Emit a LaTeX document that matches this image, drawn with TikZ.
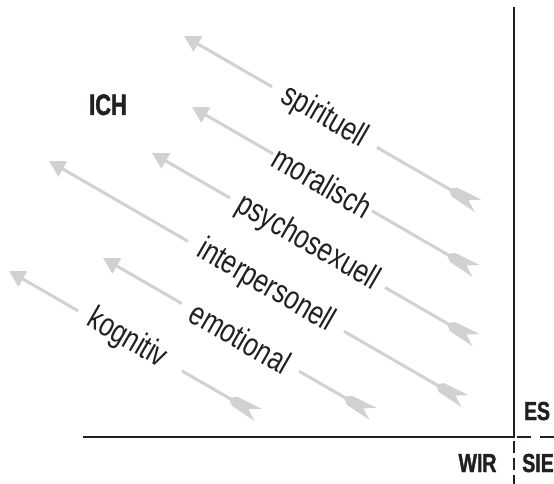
\documentclass[tikz,border=0pt]{standalone}
\usepackage{fontspec}
\setmainfont{Liberation Sans}
\newfontfamily\labfont{Liberation Sans}[FakeStretch=0.77]
\newfontfamily\capfont{Liberation Sans}[FakeStretch=0.75, FakeBold=1.5]
\newfontfamily\ichfont{Liberation Sans}[FakeStretch=0.74, FakeBold=1.5]
\usetikzlibrary{arrows.meta,calc}
\definecolor{argrey}{RGB}{208,209,211}
\definecolor{axblack}{RGB}{35,31,32}
\tikzset{
  arline/.style={draw=argrey, line width=3pt},
  headline/.style={arline, -{Triangle[length=16pt,width=17pt]}},
  tailline/.style={arline, shorten >=26pt},
  lab/.style={font=\labfont\fontsize{33}{35}\selectfont, text=axblack, inner sep=0pt, rotate=-30},
  capl/.style={font=\capfont\bfseries\fontsize{26}{28}\selectfont, text=axblack, inner sep=0pt, anchor=base},
  axisline/.style={draw=axblack, line width=2.5pt},
  fletch/.pic={\fill[argrey] (-32,-1.5) -- (-27,-5.2) -- (0,-7) -- (-11,0) -- (0,7) -- (-27,5.2) -- (-32,1.5) -- cycle;}
}
\begin{document}
\begin{tikzpicture}[x=1pt,y=-1pt]
\useasboundingbox (0,0) rectangle (554,484);
% arrow coordinates: tip, gap start, gap end, tail
\coordinate (t1) at (184,36);  \coordinate (a1) at (272,86.8);  \coordinate (b1) at (377,147.4); \coordinate (e1) at (478,205.7);
\coordinate (t2) at (192,107); \coordinate (a2) at (273,153.8); \coordinate (b2) at (372,210.9); \coordinate (e2) at (476,271.0);
\coordinate (t3) at (152,153); \coordinate (a3) at (230,198.0); \coordinate (b3) at (385,287.5); \coordinate (e3) at (476,340.1);
\coordinate (t4) at (49,161);  \coordinate (a4) at (188,241.3); \coordinate (b4) at (344,331.3); \coordinate (e4) at (465,401.2);
\coordinate (t5) at (103,258); \coordinate (a5) at (182,303.6); \coordinate (b5) at (299,371.2); \coordinate (e5) at (373,413.9);
\coordinate (t6) at (9,271);   \coordinate (a6) at (78,310.8);  \coordinate (b6) at (182,370.9); \coordinate (e6) at (258,414.8);
\foreach \i in {1,...,6}{
  \draw[headline] (a\i) -- (t\i);
  \draw[tailline] (b\i) -- (e\i);
  \pic[rotate=-30] at (e\i) {fletch};
}
\node[lab] (l1) at ($(a1)!0.5!(b1)$) {spirituell};
\node[lab] (l2) at ($(a2)!0.5!(b2)$) {moralisch};
\node[lab] (l3) at ($(a3)!0.5!(b3)$) {psychosexuell};
\node[lab] (l4) at ($(a4)!0.5!(b4)$) {interpersonell};
\node[lab] (l5) at ($(a5)!0.5!(b5)$) {emotional};
\node[lab] (l6) at ($(a6)!0.47!(b6)$) {kognitiv};
% axes
\coordinate (vtop) at (514,7);
\coordinate (corner) at (514,437);
\coordinate (hleft) at (83,437);
\coordinate (hd0) at (517,437);
\coordinate (hd1) at (554,437);
\coordinate (vd0) at (514,441);
\coordinate (vd1) at (514,484);
\draw[axisline] (vtop) -- (corner) -- (hleft);
\draw[axisline, line width=2.2pt, dash pattern=on 14pt off 9pt] (hd0) -- (hd1);
\draw[axisline, line width=2pt, dash pattern=on 12pt off 5pt] (vd0) -- (vd1);
% corner labels
\node[capl, font=\ichfont\bfseries\fontsize{29.5}{31}\selectfont] (ich) at (108,115) {ICH};
\node[capl] (es) at (537,420) {ES};
\node[capl] (wir) at (477.5,472) {WIR};
\node[capl] (sie) at (538,472) {SIE};
\end{tikzpicture}
\end{document}
